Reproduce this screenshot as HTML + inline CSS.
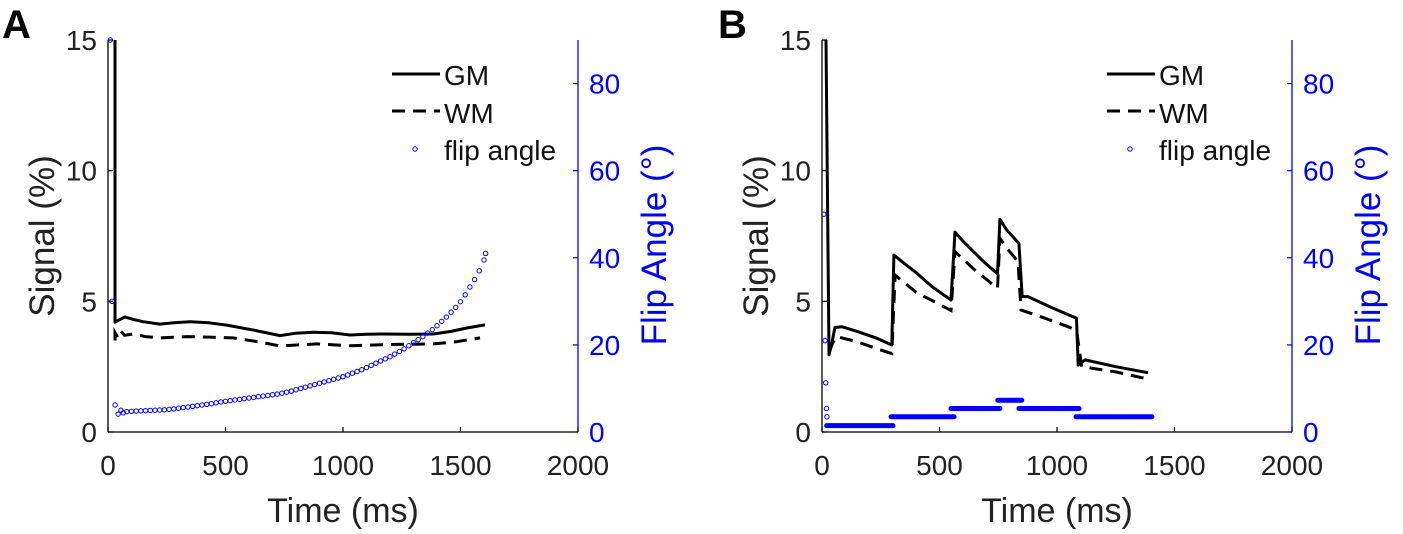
<!DOCTYPE html>
<html><head><meta charset="utf-8"><style>
body{margin:0;background:#fff;}
svg{display:block;font-family:"Liberation Sans",sans-serif;}
</style></head><body>
<svg id="fig" width="1403" height="534" viewBox="0 0 1403 534"></svg>
<script>
// ---------- Panel A data ----------
const gmA_t=[30,30,50,72,110,149,221,280,349,430,505,620,732,800,873,950,1030,1100,1171,1280,1384,1460,1527,1604];
const gmA_v=[15,4.2,4.3,4.4,4.3,4.22,4.13,4.18,4.22,4.18,4.09,3.9,3.69,3.78,3.82,3.8,3.71,3.74,3.75,3.74,3.75,3.85,3.98,4.1];
const wmA_t=[30,30,42,55,70,106,160,221,336,430,532,640,732,889,1030,1200,1384,1480,1583];
const wmA_v=[3.5,3.8,3.6,3.85,3.7,3.75,3.65,3.6,3.65,3.63,3.6,3.45,3.29,3.37,3.3,3.35,3.37,3.45,3.6];
const faA_t=[10,17,30,43,55,65,80,100,120,140,160,180,200,220,240,260,280,300,320,340,360,380,400,420,440,460,480,500,520,540,560,580,600,620,640,660,680,700,720,740,760,780,800,820,840,860,880,900,920,940,960,980,1000,1020,1040,1060,1080,1100,1120,1140,1160,1180,1200,1220,1240,1260,1280,1300,1320,1340,1360,1380,1400,1420,1440,1460,1480,1500,1520,1540,1560,1580,1600,1607];
const faA_v=[90,30,6.2,4.1,5.0,4.4,4.7,4.75,4.8,4.85,4.9,4.95,5.0,5.05,5.1,5.2,5.3,5.45,5.6,5.75,5.9,6.05,6.2,6.35,6.5,6.7,6.9,7.05,7.2,7.35,7.5,7.65,7.8,7.95,8.1,8.25,8.4,8.55,8.7,8.9,9.15,9.4,9.7,10.0,10.3,10.6,10.9,11.2,11.5,11.8,12.1,12.4,12.7,13.1,13.5,13.9,14.3,14.8,15.3,15.8,16.3,16.8,17.3,17.9,18.5,19.1,19.8,20.5,21.2,21.9,22.7,23.5,24.4,25.4,26.4,27.5,28.6,29.9,31.5,33.3,35.0,37.0,39.5,41];
// ---------- Panel B data ----------
const gmB_t=[17,30,42,55,84,150,230,297,306,350,396,470,549,566,600,637,690,747,757,770,786,838,852,876,980,1083,1090,1119,1250,1387];
const gmB_v=[15,2.95,3.4,4.0,4.03,3.85,3.6,3.33,6.77,6.45,6.13,5.55,5.05,7.65,7.3,6.97,6.5,6.05,8.14,7.95,7.73,7.22,5.18,5.18,4.75,4.35,2.56,2.76,2.5,2.27];
const wmB_t=[30,45,63,150,230,297,311,400,549,566,650,747,757,790,834,847,950,1047,1083,1105,1250,1375];
const wmB_v=[3.05,3.4,3.65,3.45,3.2,3.0,6.0,5.35,4.65,6.9,6.2,5.5,7.41,7.0,6.52,4.67,4.35,4.03,3.9,2.5,2.3,2.05];
const faB_dot_t=[8,13,16,19,21];
const faB_dot_v=[50,21,11.3,5.4,3.5];
const faB_seg_start=[20,294,549,748,838,1081];
const faB_seg_end=[302,562,757,850,1094,1404];
const faB_seg_val=[1.45,3.5,5.4,7.3,5.4,3.5];
// ---------- ticks ----------
const xTicks=[0,500,1000,1500,2000];
const yTicks=[0,5,10,15];
const rTicks=[0,20,40,60,80];

const NS="http://www.w3.org/2000/svg";
const svg=document.getElementById('fig');
function mk(tag,attrs,parent,text){const e=document.createElementNS(NS,tag);for(const k in attrs)e.setAttribute(k,attrs[k]);if(text!==undefined)e.textContent=text;(parent||svg).appendChild(e);return e;}

function panel(p){
  const g=mk('g',{});
  
  
  const L=p.left,R=p.left+470,T=40,B=432;
  const xs=t=>L+t/2000*(R-L), ys=v=>B-v/15*(B-T), yr=v=>B-v/90*(B-T);
  let a=mk('line',{x1:L,y1:T,x2:L,y2:B,stroke:'#000','stroke-width':1.3},g);
  
  a=mk('line',{x1:L,y1:B,x2:R,y2:B,stroke:'#000','stroke-width':1.3},g);
  
  a=mk('line',{x1:R,y1:T,x2:R,y2:B,stroke:'#00f','stroke-width':1.3},g);
  
  xTicks.forEach(t=>{const x=xs(t);mk('line',{x1:x,y1:B,x2:x,y2:B-5,stroke:'#000','stroke-width':1.2},g);
    const tx=mk('text',{x:x,y:B+43,'text-anchor':'middle','font-size':28,fill:'#222'},g,String(t));
    });
  yTicks.forEach(v=>{const y=ys(v);mk('line',{x1:L,y1:y,x2:L+5,y2:y,stroke:'#000','stroke-width':1.2},g);
    const tx=mk('text',{x:L-11,y:y+10,'text-anchor':'end','font-size':28,fill:'#222'},g,String(v));
    });
  rTicks.forEach(v=>{const y=yr(v);mk('line',{x1:R,y1:y,x2:R-5,y2:y,stroke:'#00f','stroke-width':1.2},g);
    const tx=mk('text',{x:R+11,y:y+10,'text-anchor':'start','font-size':28,fill:'#00f'},g,String(v));
    });
  let t=mk('text',{x:(L+R)/2,y:522,'text-anchor':'middle','font-size':34,fill:'#222'},g,'Time (ms)');
  
  t=mk('text',{x:0,y:0,'text-anchor':'middle','font-size':35,fill:'#222',transform:`translate(${L-54},236) rotate(-90)`},g,'Signal (%)');
  
  t=mk('text',{x:0,y:0,'text-anchor':'middle','font-size':35,fill:'#00f',transform:`translate(${R+88},245) rotate(-90)`},g,'Flip Angle (°)');
  
  t=mk('text',{x:p.letterX,y:38,'font-size':40,'font-weight':'bold',fill:'#000'},g,p.letter);
  
  const path=(ts,vs)=>ts.map((tt,i)=>(i?'L':'M')+xs(tt).toFixed(1)+','+ys(vs[i]).toFixed(1)).join('');
  let s=mk('path',{d:path(p.gmT,p.gmV),fill:'none',stroke:'#000','stroke-width':3,'stroke-linejoin':'round'},g);
  
  s=mk('path',{d:path(p.wmT,p.wmV),fill:'none',stroke:'#000','stroke-width':3,'stroke-dasharray':'13 8'},g);
  
  p.faT.forEach((tt,i)=>{const c=mk('circle',{cx:xs(tt),cy:yr(p.faV[i]),r:2.2,fill:'none',stroke:'#00f','stroke-width':1},g);
    });
  if(p.seg){p.seg.s.forEach((st,i)=>{const l=mk('line',{x1:xs(st),x2:xs(p.seg.e[i]),y1:yr(p.seg.v[i]),y2:yr(p.seg.v[i]),stroke:'#00f','stroke-width':5,'stroke-linecap':'round'},g);
    });}
  const lg=mk('g',{},g);
  const lx=p.legX;
  mk('line',{x1:lx,y1:74,x2:lx+48,y2:74,stroke:'#000','stroke-width':3},lg);
  t=mk('text',{x:lx+52,y:85,'font-size':28,fill:'#111'},lg,'GM');
  mk('line',{x1:lx,y1:111,x2:lx+48,y2:111,stroke:'#000','stroke-width':3,'stroke-dasharray':'13 8'},lg);
  t=mk('text',{x:lx+52,y:123,'font-size':28,fill:'#111'},lg,'WM');
  mk('circle',{cx:lx+23,cy:149,r:2.2,fill:'none',stroke:'#00f','stroke-width':1},lg);
  t=mk('text',{x:lx+52,y:160,'font-size':28,fill:'#111'},lg,'flip angle');
}
panel({name:'panel-a',left:108,letter:'A',letterX:2,legX:392,gmT:gmA_t,gmV:gmA_v,wmT:wmA_t,wmV:wmA_v,faT:faA_t,faV:faA_v});
panel({name:'panel-b',left:822,letter:'B',letterX:718,legX:1107,gmT:gmB_t,gmV:gmB_v,wmT:wmB_t,wmV:wmB_v,faT:faB_dot_t,faV:faB_dot_v,seg:{s:faB_seg_start,e:faB_seg_end,v:faB_seg_val}});
</script>
</body></html>
